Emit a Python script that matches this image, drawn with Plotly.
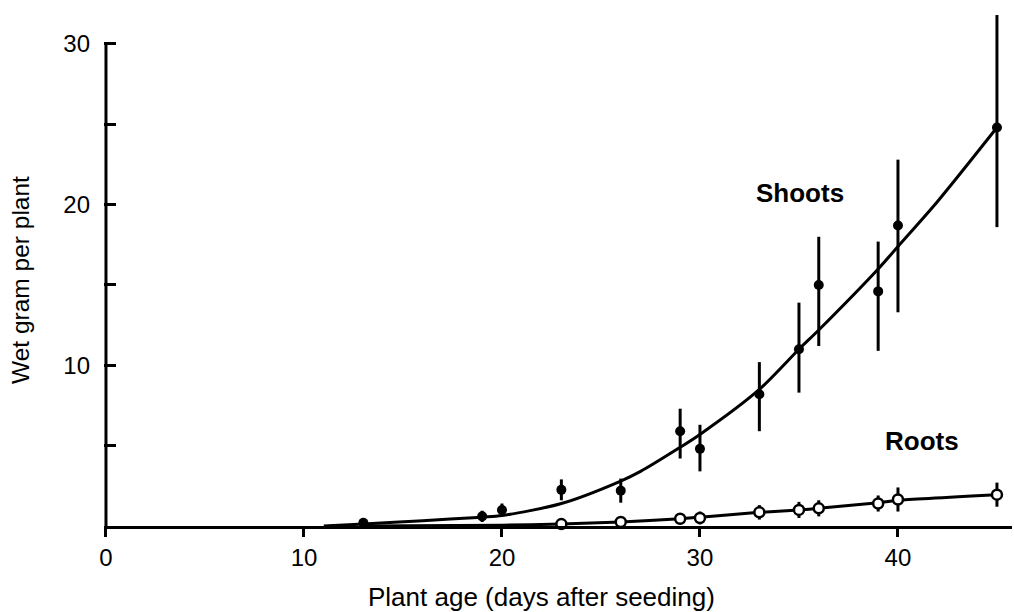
import plotly.graph_objects as go

# ---- data ----
shoot_days = [13, 19, 20, 23, 26, 29, 30, 33, 35, 36, 39, 40, 45]
shoot_mean = [0.2, 0.6, 1.0, 2.25, 2.2, 5.9, 4.8, 8.2, 11.0, 15.0, 14.6, 18.7, 24.8]
shoot_err_up = [0.1, 0.35, 0.4, 0.65, 0.75, 1.4, 1.5, 2.0, 2.9, 3.0, 3.1, 4.1, 7.0]
shoot_err_down = [0.1, 0.35, 0.4, 0.65, 0.75, 1.7, 1.4, 2.3, 2.7, 3.8, 3.7, 5.4, 6.2]

shoot_fit_days = [11, 13, 16, 19, 20, 23, 26, 27, 29, 30, 33, 35, 36, 39, 40, 42, 45]
shoot_fit = [0.0, 0.12, 0.33, 0.55, 0.65, 1.4, 2.8, 3.4, 4.9, 5.7, 8.5, 11.0, 12.2, 16.0, 17.4, 20.2, 24.8]

root_days = [23, 26, 29, 30, 33, 35, 36, 39, 40, 45]
root_mean = [0.12, 0.25, 0.45, 0.5, 0.85, 1.0, 1.1, 1.4, 1.65, 1.95]
root_err = [0.1, 0.15, 0.3, 0.4, 0.45, 0.5, 0.5, 0.5, 0.75, 0.75]

root_fit_days = [13, 20, 23, 26, 29, 30, 33, 35, 36, 39, 40, 45]
root_fit = [0.0, 0.05, 0.12, 0.25, 0.45, 0.55, 0.85, 1.0, 1.1, 1.45, 1.6, 1.95]

x_ticks = [0, 10, 20, 30, 40]
y_ticks = [5, 10, 15, 20, 25, 30]
y_ticktext = ["", "10", "", "20", "", "30"]

FONT = "Liberation Sans, Arial, Helvetica, sans-serif"

fig = go.Figure()

# fitted curves
fig.add_trace(go.Scatter(x=shoot_fit_days, y=shoot_fit, mode="lines",
                         line=dict(color="black", width=3, shape="spline", smoothing=0.8),
                         hoverinfo="skip", showlegend=False))
fig.add_trace(go.Scatter(x=root_fit_days, y=root_fit, mode="lines",
                         line=dict(color="black", width=3, shape="spline", smoothing=0.6),
                         hoverinfo="skip", showlegend=False))

# shoots points with error bars
fig.add_trace(go.Scatter(x=shoot_days, y=shoot_mean, mode="markers",
                         marker=dict(color="black", size=10, symbol="circle"),
                         error_y=dict(type="data", array=shoot_err_up, arrayminus=shoot_err_down,
                                      symmetric=False, color="black", thickness=3, width=0),
                         cliponaxis=False, showlegend=False, name="Shoots"))

# roots points with error bars
fig.add_trace(go.Scatter(x=root_days, y=root_mean, mode="markers",
                         marker=dict(color="white", size=10, symbol="circle",
                                     line=dict(color="black", width=2.5)),
                         error_y=dict(type="data", array=root_err, color="black", thickness=3, width=0),
                         cliponaxis=False, showlegend=False, name="Roots"))

# y-axis line (only up to 30)
fig.add_shape(type="line", xref="x", yref="y", x0=0, x1=0, y0=0, y1=30,
              line=dict(color="black", width=3), layer="above")

fig.add_annotation(x=35.05, y=20.7, xref="x", yref="y", text="<b>Shoots</b>",
                   showarrow=False, font=dict(family=FONT, size=26, color="black"))
fig.add_annotation(x=41.2, y=5.3, xref="x", yref="y", text="<b>Roots</b>",
                   showarrow=False, font=dict(family=FONT, size=26, color="black"))

fig.add_annotation(x=0.4813, y=-0.1368, xref="paper", yref="paper",
                   text="Plant age (days after seeding)", showarrow=False,
                   xanchor="center", yanchor="middle",
                   font=dict(family=FONT, size=26, color="black"))
fig.add_annotation(x=-0.0914, y=0.474, xref="paper", yref="paper",
                   text="Wet gram per plant", showarrow=False, textangle=-90,
                   xanchor="center", yanchor="middle",
                   font=dict(family=FONT, size=24.5, color="black"))

fig.update_layout(
    width=1014, height=612,
    margin=dict(l=104, r=2, t=7, b=86),
    paper_bgcolor="white", plot_bgcolor="white",
    font=dict(family=FONT, size=24, color="black"),
    xaxis=dict(range=[-0.1, 45.76], tickvals=x_ticks, ticks="outside", ticklen=8,
               tickwidth=3, tickcolor="black", showline=True, linecolor="black",
               linewidth=3, showgrid=False, zeroline=False,
               tickfont=dict(family=FONT, size=24, color="black")),
    yaxis=dict(range=[0, 32.3], tickvals=y_ticks, ticktext=y_ticktext, ticks="inside",
               ticklen=12, tickwidth=3, tickcolor="black", showline=False,
               showgrid=False, zeroline=False, ticklabelstandoff=13,
               tickfont=dict(family=FONT, size=24, color="black")),
)

fig.write_html("out.html")
